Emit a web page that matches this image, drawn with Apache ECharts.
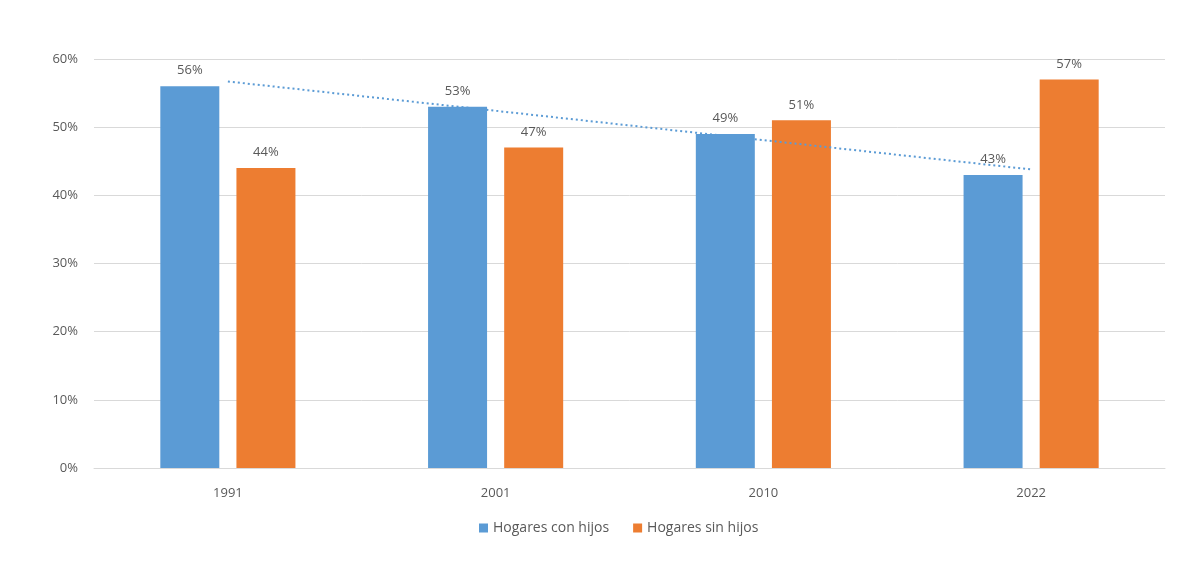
<!DOCTYPE html>
<html>
<head>
<meta charset="utf-8">
<script src="https://cdn.jsdelivr.net/npm/echarts@6/dist/echarts.min.js"></script>
<style>
html,body{margin:0;padding:0;background:#fff;}
#chart{width:1200px;height:565px;}
</style>
</head>
<body>
<div id="chart"></div>
<script>
const categories = ['1991', '2001', '2010', '2022'];
const conHijos = [56, 53, 49, 43];
const sinHijos = [44, 47, 51, 57];
const trendConHijos = [56.7, 52.4, 48.1, 43.8];
const seriesNames = ['Hogares con hijos', 'Hogares sin hijos'];
const yTicks = [0, 10, 20, 30, 40, 50, 60];

const FONT = '"Open Sans", "Noto Sans", sans-serif';
const TEXT = '#595959';

const chart = echarts.init(document.getElementById('chart'), null, {renderer: 'canvas'});
chart.setOption({
  backgroundColor: '#ffffff',
  animation: false,
  textStyle: {fontFamily: FONT},
  grid: {left: 94, right: 35, top: 59, bottom: 97, containLabel: false},
  legend: {
    data: seriesNames,
    bottom: 25,
    left: 474,
    icon: 'rect',
    itemWidth: 9,
    itemHeight: 9,
    itemGap: 24,
    textStyle: {color: TEXT, fontSize: 14, fontFamily: FONT}
  },
  xAxis: {
    type: 'category',
    data: categories,
    axisLine: {lineStyle: {color: '#d9d9d9', width: 1}},
    axisTick: {show: false},
    axisLabel: {color: TEXT, fontSize: 13, margin: 19, fontFamily: FONT}
  },
  yAxis: {
    type: 'value',
    min: yTicks[0],
    max: yTicks[yTicks.length - 1],
    interval: 10,
    axisLine: {show: false},
    axisTick: {show: false},
    splitLine: {lineStyle: {color: '#d9d9d9', width: 1}},
    axisLabel: {color: TEXT, fontSize: 13, margin: 16, fontFamily: FONT, formatter: v => v + '%'}
  },
  series: [
    {
      name: seriesNames[0],
      type: 'bar',
      data: conHijos,
      barWidth: 59,
      barGap: '29%',
      itemStyle: {color: '#5b9bd5'},
      label: {show: true, position: 'top', distance: 9, color: TEXT, fontSize: 13, fontFamily: FONT, formatter: p => p.value + '%'}
    },
    {
      name: seriesNames[1],
      type: 'bar',
      data: sinHijos,
      barWidth: 59,
      barGap: '29%',
      itemStyle: {color: '#ed7d31'},
      label: {show: true, position: 'top', distance: 9, color: TEXT, fontSize: 13, fontFamily: FONT, formatter: p => p.value + '%'}
    },
    {
      name: 'trend',
      type: 'line',
      data: trendConHijos,
      symbol: 'none',
      silent: true,
      z: 5,
      lineStyle: {color: '#5b9bd5', width: 2, type: [2, 3]}
    }
  ]
});
</script>
</body>
</html>
